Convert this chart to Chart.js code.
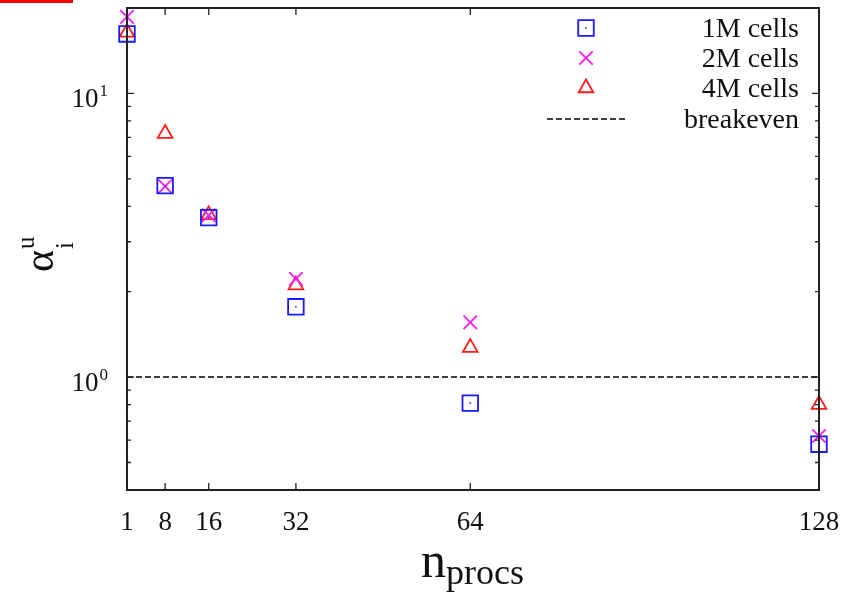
<!DOCTYPE html>
<html>
<head>
<meta charset="utf-8">
<script src="https://cdn.jsdelivr.net/npm/chart.js@4.4.1/dist/chart.umd.min.js"></script>
<style>
  html, body { margin: 0; padding: 0; background: #fff; }
  #wrap { position: relative; width: 850px; height: 597px; }
  #redbar { position: absolute; left: 0; top: 0; width: 73px; height: 3px; background: #ff0000; }
  canvas { position: absolute; left: 0; top: 0; }
</style>
</head>
<body>
<div id="wrap">
  <canvas id="c" width="850" height="597"></canvas>
  <div id="redbar"></div>
</div>
<script>
// ---- data ----
const procs = [1, 8, 16, 32, 64, 128];
const cells1M = [16.2, 4.73, 3.65, 1.77, 0.81, 0.58];
const cells2M = [18.6, 4.70, 3.72, 2.22, 1.56, 0.62];
const cells4M = [16.4, 7.22, 3.73, 2.11, 1.27, 0.80];
const breakevenX = [1, 128];
const breakevenY = [1, 1];
const seriesLabels = ['1M cells', '2M cells', '4M cells', 'breakeven'];
const xTicks = [1, 8, 16, 32, 64, 128];
const yMajorTicks = [1, 10];
const yMinorTicks = [0.4, 0.5, 0.6, 0.7, 0.8, 0.9, 2, 3, 4, 5, 6, 7, 8, 9, 20];

const SERIF = '"Liberation Serif", "Times New Roman", serif';

function pts(xs, ys) { return xs.map((x, i) => ({ x: x, y: ys[i] })); }

const framePlugin = {
  id: 'frame',
  afterDatasetsDraw(chart) {
    const ctx = chart.ctx;
    const a = chart.chartArea;
    const xs = chart.scales.x, ys = chart.scales.y;
    ctx.save();
    ctx.strokeStyle = '#222';
    ctx.lineWidth = 2;
    ctx.strokeRect(a.left, a.top, a.right - a.left, a.bottom - a.top);
    ctx.lineWidth = 1.3;
    ctx.beginPath();
    xTicks.forEach(v => {
      const px = xs.getPixelForValue(v);
      ctx.moveTo(px, a.bottom); ctx.lineTo(px, a.bottom - 7);
      ctx.moveTo(px, a.top); ctx.lineTo(px, a.top + 7);
    });
    yMajorTicks.forEach(v => {
      const py = ys.getPixelForValue(v);
      ctx.moveTo(a.left, py); ctx.lineTo(a.left + 7, py);
      ctx.moveTo(a.right, py); ctx.lineTo(a.right - 7, py);
    });
    yMinorTicks.forEach(v => {
      const py = ys.getPixelForValue(v);
      ctx.moveTo(a.left, py); ctx.lineTo(a.left + 4, py);
      ctx.moveTo(a.right, py); ctx.lineTo(a.right - 4, py);
    });
    ctx.stroke();

    // small centre dots of the square markers
    const sq = chart.getDatasetMeta(0);
    ctx.fillStyle = chart.data.datasets[0].borderColor;
    sq.data.forEach(p => { ctx.fillRect(p.x - 0.75, p.y - 0.75, 1.5, 1.5); });

    // y tick labels 10^n
    ctx.fillStyle = '#111';
    ctx.textBaseline = 'alphabetic';
    yMajorTicks.forEach(v => {
      const py = ys.getPixelForValue(v);
      const exp = String(Math.round(Math.log10(v)));
      ctx.font = '17px ' + SERIF;
      ctx.textAlign = 'right';
      ctx.fillText(exp, 108, py + 3);
      const ew = ctx.measureText(exp).width;
      ctx.font = '27px ' + SERIF;
      ctx.fillText('10', 108 - ew - 1, py + 14);
    });

    // y axis title: alpha_i^u (rotated)
    ctx.save();
    ctx.translate(53, 272);
    ctx.rotate(-Math.PI / 2);
    ctx.textAlign = 'left';
    ctx.font = '42px ' + SERIF;
    ctx.fillText('\u03b1', 0, 0);
    const aw = ctx.measureText('\u03b1').width;
    ctx.font = '25px ' + SERIF;
    ctx.fillText('i', aw + 1, 20);
    ctx.fillText('u', aw + 1, -19);
    ctx.restore();

    // x axis title: n_procs
    ctx.textAlign = 'left';
    ctx.font = '50px ' + SERIF;
    ctx.fillText('n', 421, 577);
    ctx.font = '36px ' + SERIF;
    ctx.fillText('procs', 446, 584);

    // legend (inside, top right)
    const ds = chart.data.datasets;
    const rowsY = [28, 58, 88, 119];
    const markX = 586;
    ctx.font = '28px ' + SERIF;
    ctx.textAlign = 'right';
    ds.forEach((d, i) => {
      const y = rowsY[i];
      ctx.fillStyle = '#111';
      ctx.fillText(d.label, 799, y + 9);
      if (d.showLine) {
        ctx.save();
        ctx.strokeStyle = d.borderColor;
        ctx.lineWidth = d.borderWidth;
        ctx.setLineDash(d.borderDash);
        ctx.beginPath();
        ctx.moveTo(547, y); ctx.lineTo(625, y);
        ctx.stroke();
        ctx.restore();
      } else {
        ctx.save();
        ctx.strokeStyle = d.borderColor;
        ctx.fillStyle = 'rgba(0,0,0,0)';
        ctx.lineWidth = d.pointBorderWidth;
        Chart.helpers.drawPoint(ctx, {
          pointStyle: d.pointStyle, rotation: 0, radius: d.pointRadius, borderWidth: d.pointBorderWidth
        }, markX, y);
        ctx.restore();
        if (i === 0) {
          ctx.fillStyle = d.borderColor;
          ctx.fillRect(markX - 0.75, y - 0.75, 1.5, 1.5);
        }
      }
    });
    ctx.restore();
  }
};

new Chart(document.getElementById('c'), {
  type: 'scatter',
  data: {
    datasets: [
      { label: seriesLabels[0], data: pts(procs, cells1M), pointStyle: 'rect', pointRadius: 11,
        borderColor: '#1a1aff', backgroundColor: 'rgba(0,0,0,0)', pointBorderWidth: 1.8, clip: false, showLine: false },
      { label: seriesLabels[1], data: pts(procs, cells2M), pointStyle: 'crossRot', pointRadius: 9.5,
        borderColor: '#ff1aff', backgroundColor: 'rgba(0,0,0,0)', pointBorderWidth: 1.8, clip: false, showLine: false },
      { label: seriesLabels[2], data: pts(procs, cells4M), pointStyle: 'triangle', pointRadius: 8.5,
        borderColor: '#ff1a1a', backgroundColor: 'rgba(0,0,0,0)', pointBorderWidth: 1.8, clip: false, showLine: false },
      { label: seriesLabels[3], type: 'line', data: pts(breakevenX, breakevenY), showLine: true,
        borderColor: '#000', borderWidth: 1.5, borderDash: [6, 3], pointRadius: 0, fill: false, clip: false }
    ]
  },
  options: {
    responsive: false,
    animation: false,
    events: [],
    layout: { autoPadding: false, padding: { top: 8, right: 31, left: 0, bottom: 0 } },
    plugins: { legend: { display: false }, tooltip: { enabled: false }, title: { display: false } },
    scales: {
      x: {
        type: 'linear', min: 1, max: 128,
        afterBuildTicks: s => { s.ticks = xTicks.map(v => ({ value: v })); },
        afterFit: s => { s.height = 107; s.paddingLeft = 0; s.paddingRight = 0; },
        grid: { display: false },
        border: { display: false },
        ticks: { color: '#111', font: { family: SERIF, size: 27 }, padding: 9, maxRotation: 0, autoSkip: false,
                 callback: v => String(v) }
      },
      y: {
        type: 'logarithmic', min: 0.4, max: 20,
        afterBuildTicks: s => { s.ticks = yMajorTicks.map(v => ({ value: v })); },
        afterFit: s => { s.width = 127; s.paddingTop = 0; s.paddingBottom = 0; },
        grid: { display: false },
        border: { display: false },
        ticks: { display: false }
      }
    }
  },
  plugins: [framePlugin]
});
</script>
</body>
</html>
